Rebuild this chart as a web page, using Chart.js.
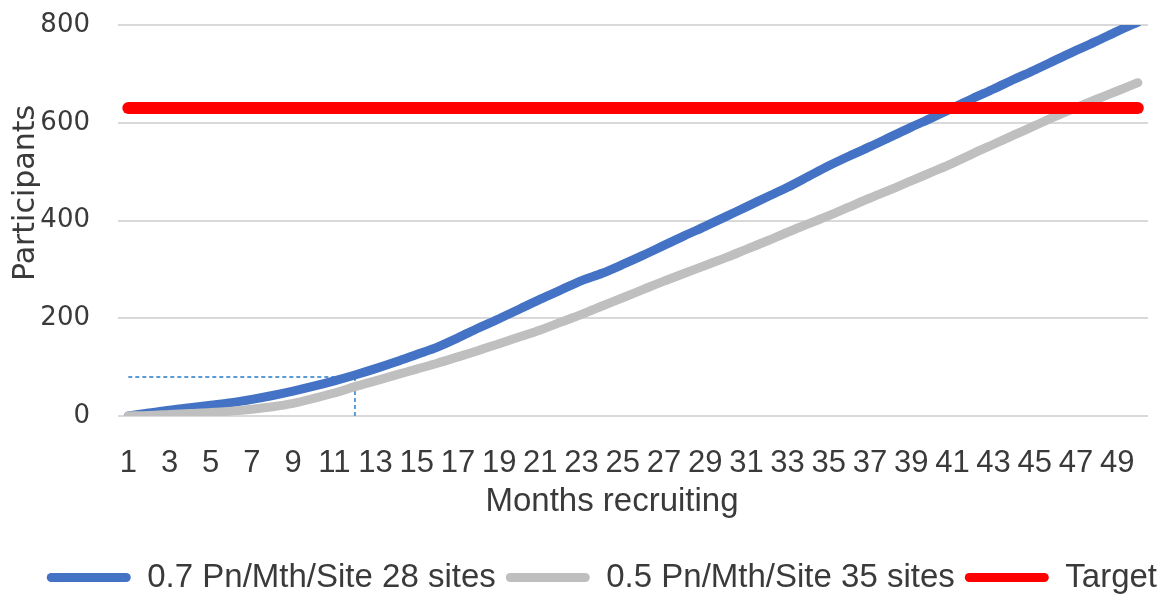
<!DOCTYPE html>
<html>
<head>
<meta charset="utf-8">
<script src="https://cdn.jsdelivr.net/npm/chart.js@4.4.1/dist/chart.umd.min.js"></script>
<style>
  html, body { margin: 0; padding: 0; background: #ffffff; }
  #wrap { width: 1167px; height: 596px; position: relative; }
</style>
</head>
<body>
<div id="wrap"><canvas id="chart" width="1167" height="596"></canvas></div>
<script>
// Months of recruitment (x categories)
const months = [1, 2, 3, 4, 5, 6, 7, 8, 9, 10,
                11, 12, 13, 14, 15, 16, 17, 18, 19, 20,
                21, 22, 23, 24, 25, 26, 27, 28, 29, 30,
                31, 32, 33, 34, 35, 36, 37, 38, 39, 40,
                41, 42, 43, 44, 45, 46, 47, 48, 49, 50];

// Cumulative participants, 0.7 per month per site, 28 sites
const rate07sites28 = [0, 6, 12, 17, 22, 27, 34, 42, 51, 61,
                       72, 84, 97, 111, 126, 141, 160, 180, 199, 219,
                       239, 258, 277, 292, 310, 329, 349, 369, 388, 408,
                       428, 448, 468, 490, 512, 532, 551, 571, 591, 610,
                       630, 650, 669, 689, 708, 728, 748, 767, 787, 806];

// Cumulative participants, 0.5 per month per site, 35 sites
const rate05sites35 = [0, 1, 3, 5, 7, 10, 14, 19, 26, 36,
                       47, 60, 72, 84, 96, 108, 121, 134, 148, 162,
                       176, 192, 208, 225, 242, 259, 276, 292, 308, 324,
                       341, 358, 376, 393, 410, 428, 446, 463, 481, 499,
                       517, 537, 556, 575, 594, 613, 631, 648, 665, 682];

// Recruitment target
const targetParticipants = 630;

// Reference marker: participants reached at the end of the first year
const markerMonth = 12;
const markerValue = 80;

const seriesLabels = ['0.7 Pn/Mth/Site 28 sites', '0.5 Pn/Mth/Site 35 sites', 'Target'];
const yAxisTitle = 'Participants';
const xAxisTitle = 'Months recruiting';
const yMin = 0, yMax = 800, yStep = 200;

const TEXT = '#3a3a3a';

// Axis titles, placed where the chart layout wants them
const axisTitlePlugin = {
  id: 'axisTitles',
  afterDraw(chart) {
    const ctx = chart.ctx;
    ctx.save();
    ctx.fillStyle = TEXT;
    ctx.textAlign = 'center';
    ctx.textBaseline = 'middle';

    ctx.save();
    ctx.translate(26, 193);
    ctx.rotate(-Math.PI / 2);
    ctx.font = '30px "DejaVu Sans", sans-serif';
    ctx.fillText(yAxisTitle, 0, 0);
    ctx.restore();

    ctx.font = '33px "Liberation Sans", Arial, sans-serif';
    ctx.fillText(xAxisTitle, 612, 502);
    ctx.restore();
  }
};

// Empty axis used only to reserve space beside the plot
const spacerAxis = (pos, width, weight) => ({
  position: pos,
  display: true,
  weight: weight,
  ticks: { display: false },
  grid: { display: false, drawTicks: false },
  border: { display: false },
  afterFit(scale) { scale.width = width; }
});

const chart = new Chart(document.getElementById('chart'), {
  type: 'line',
  data: {
    labels: months,
    datasets: [
      {
        label: seriesLabels[0],
        data: rate07sites28,
        borderColor: '#4472C4',
        backgroundColor: '#4472C4',
        borderWidth: 9,
        tension: 0.3,
        pointRadius: 0,
        borderCapStyle: 'round',
        borderJoinStyle: 'round',
        order: 3
      },
      {
        label: seriesLabels[1],
        data: rate05sites35,
        borderColor: '#BFBFBF',
        backgroundColor: '#BFBFBF',
        borderWidth: 9,
        tension: 0.3,
        pointRadius: 0,
        borderCapStyle: 'round',
        borderJoinStyle: 'round',
        order: 2
      },
      {
        label: seriesLabels[2],
        data: [{ x: months[0], y: targetParticipants },
               { x: months[months.length - 1], y: targetParticipants }],
        borderColor: '#FF0000',
        backgroundColor: '#FF0000',
        borderWidth: 12,
        pointRadius: 0,
        borderCapStyle: 'round',
        order: 1
      },
      {
        label: '',
        guide: true,
        data: [{ x: months[0], y: markerValue }, { x: markerMonth, y: markerValue }],
        borderColor: '#5B9BD5',
        borderWidth: 2,
        borderDash: [4, 3],
        pointRadius: 0,
        order: 5
      },
      {
        label: '',
        guide: true,
        data: [{ x: markerMonth, y: markerValue }, { x: markerMonth, y: 0 }],
        borderColor: '#5B9BD5',
        borderWidth: 2,
        borderDash: [4, 3],
        pointRadius: 0,
        order: 5
      }
    ]
  },
  options: {
    responsive: false,
    animation: false,
    devicePixelRatio: 1,
    layout: { padding: { top: 25, left: 0, right: 0, bottom: -8 } },
    plugins: {
      tooltip: { enabled: false },
      legend: {
        position: 'bottom',
        align: 'end',
        labels: {
          font: { family: '"Liberation Sans", Arial, sans-serif', size: 33 },
          color: TEXT,
          boxWidth: 84,
          boxHeight: 9,
          useBorderRadius: true,
          borderRadius: 4.5,
          padding: 10,
          filter: (item, data) => !data.datasets[item.datasetIndex].guide,
          sort: (a, b) => a.datasetIndex - b.datasetIndex,
          generateLabels(chart) {
            const items = Chart.defaults.plugins.legend.labels.generateLabels(chart);
            items.forEach(it => {
              const ds = chart.data.datasets[it.datasetIndex];
              it.fillStyle = ds.borderColor;
              it.strokeStyle = ds.borderColor;
              it.lineWidth = 0;
              it.lineDash = [];
            });
            return items;
          }
        }
      }
    },
    scales: {
      x: {
        type: 'category',
        offset: true,
        grid: { display: false, drawTicks: false },
        border: { display: false },
        ticks: {
          autoSkip: false,
          maxRotation: 0,
          minRotation: 0,
          padding: 29,
          color: TEXT,
          font: { family: '"Liberation Sans", Arial, sans-serif', size: 31 },
          callback: function (value, index) {
            return index % 2 === 0 ? this.getLabelForValue(value) : '';
          }
        },
        afterFit(scale) { scale.height = 135; }
      },
      y: {
        min: yMin,
        max: yMax,
        weight: 1,
        ticks: {
          stepSize: yStep,
          padding: 0,
          color: TEXT,
          font: { family: '"DejaVu Sans", sans-serif', size: 26 }
        },
        grid: { color: '#D9D9D9', lineWidth: 2, drawTicks: false },
        border: { display: false },
        afterFit(scale) { scale.width = 90; }
      },
      yGap: spacerAxis('left', 28, 0),
      yRight: spacerAxis('right', 17, 0)
    }
  },
  plugins: [axisTitlePlugin]
});
</script>
</body>
</html>
